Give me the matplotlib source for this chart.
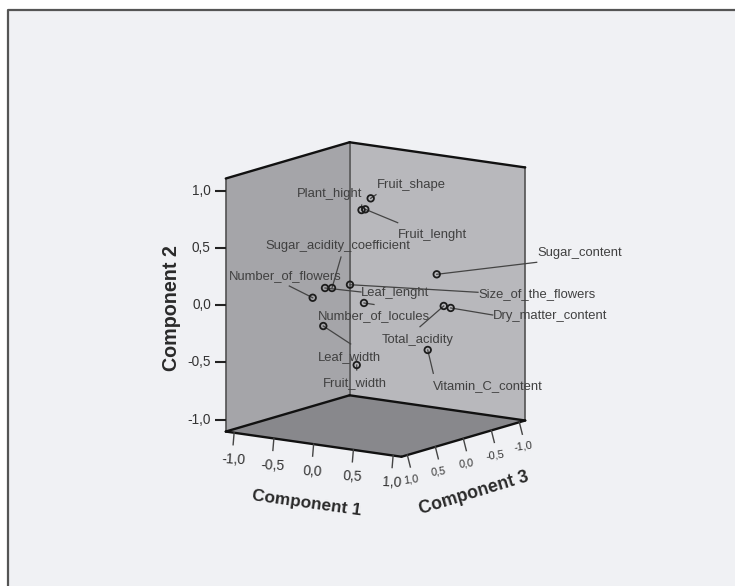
#!/usr/bin/env python3
import matplotlib

matplotlib.use("Agg")
import matplotlib.pyplot as plt
from matplotlib.patches import Polygon

plt.rcParams["font.family"] = ["Liberation Sans", "DejaVu Sans"]

# component loadings (component 3 is a rough guess)
names = [
    "Fruit_shape",
    "Plant_hight",
    "Fruit_lenght",
    "Sugar_content",
    "Size_of_the_flowers",
    "Leaf_lenght",
    "Sugar_acidity_coefficient",
    "Number_of_locules",
    "Number_of_flowers",
    "Leaf_width",
    "Fruit_width",
    "Total_acidity",
    "Dry_matter_content",
    "Vitamin_C_content",
]
comp1 = [0.186, 0.106, 0.083, 0.418, -0.18, -0.283, -0.336, -0.004, -0.297, -0.234, 0.116, 0.647, 0.664, 0.516]
comp2 = [0.952, 0.849, 0.839, 0.19, 0.14, 0.144, 0.11, -0.002, 0.086, -0.169, -0.489, -0.035, -0.065, -0.418]
comp3 = [0.35, 0.4, 0.3, -0.5, 0.2, 0.5, 0.3, 0.2, 0.7, 0.6, 0.5, -0.3, -0.4, -0.2]

ticks = [-1.0, -0.5, 0.0, 0.5, 1.0]
tick_text = ["-1,0", "-0,5", "0,0", "0,5", "1,0"]

# leader end (where the line stops) and label box left edge / centre y, in pixels
label_pos = {
    "Fruit_shape": ((376, 194.7), (377, 184)),
    "Plant_hight": ((361.7, 205), (297, 193)),
    "Fruit_lenght": ((397.7, 222.7), (398, 234)),
    "Sugar_content": ((536.7, 262.3), (537, 252)),
    "Size_of_the_flowers": ((478, 292.3), (478, 293)),
    "Leaf_lenght": ((361, 292), (361, 292)),
    "Sugar_acidity_coefficient": ((341, 257), (265, 245)),
    "Number_of_locules": ((374, 304.5), (318, 315)),
    "Number_of_flowers": ((289.3, 286), (229, 275)),
    "Leaf_width": ((350.7, 344), (318, 356)),
    "Fruit_width": ((356.7, 370), (323, 382)),
    "Total_acidity": ((420, 326.7), (382, 339)),
    "Dry_matter_content": ((492.7, 315), (493, 315)),
    "Vitamin_C_content": ((433.3, 373.3), (433, 385)),
}

LIM = 1.105
BG = "#f0f1f4"


def proj(c1, c2, c3):
    """fixed oblique view of the cube, result in figure pixels"""
    px = 375.5 + 79.5 * c1 - 56 * c3
    py = 299.5 + 11.4 * c1 + 16.4 * c3 - 114.5 * c2
    return px, py


fig = plt.figure(figsize=(7.35, 5.86), dpi=100, facecolor="white")
ax = fig.add_axes([0, 0, 1, 1])
ax.set_xlim(0, 735)
ax.set_ylim(586, 0)
ax.axis("off")

# chart area, only top and left border show in the picture
ax.add_patch(Polygon([(8.5, 9.5), (735, 9.5), (735, 586), (8.5, 586)], fc=BG, ec="none"))
ax.plot([8.5, 8.5, 735], [586, 9.5, 9.5], color="#555555", lw=1.6, solid_capstyle="butt")

# walls and floor
bl = proj(-LIM, -LIM, LIM)
bb = proj(-LIM, -LIM, -LIM)
br = proj(LIM, -LIM, -LIM)
bf = proj(LIM, -LIM, LIM)
tl = proj(-LIM, LIM, LIM)
tb = proj(-LIM, LIM, -LIM)
tr = proj(LIM, LIM, -LIM)
ax.add_patch(Polygon([bl, tl, tb, bb], fc="#a5a5a9", ec="none"))
ax.add_patch(Polygon([bb, tb, tr, br], fc="#b8b8bc", ec="none"))
ax.add_patch(Polygon([bl, bb, br, bf], fc="#88888c", ec="none"))

for a, b in [(bl, tl), (bb, tb), (br, tr)]:
    ax.plot([a[0], b[0]], [a[1], b[1]], color="#4a4a4a", lw=1.1)
for a, b in [(tl, tb), (tb, tr), (bl, bb), (bb, br), (bl, bf), (bf, br)]:
    ax.plot([a[0], b[0]], [a[1], b[1]], color="#111111", lw=1.7, solid_capstyle="round")

# ticks
for v, s in zip(ticks, tick_text):
    x, y = proj(-LIM, v, LIM)
    ax.plot([x - 11, x], [y, y], color="#222222", lw=1.5, solid_capstyle="butt")
    ax.text(x - 15, y, s, ha="right", va="center", fontsize=9.8, color="#333333")

    x, y = proj(v, -LIM, LIM)
    ax.plot([x, x - 1], [y, y + 12], color="#444444", lw=1.0)
    ax.text(x - 1, y + 27, s, ha="center", va="center", fontsize=10, rotation=-3,
            rotation_mode="anchor", color="#333333")

    x, y = proj(LIM, -LIM, v)
    ax.plot([x, x + 3], [y, y + 12], color="#444444", lw=1.0)
    ax.text(x + 3.5, y + 24.5, s, ha="center", va="center", fontsize=7.8, rotation=8,
            rotation_mode="anchor", color="#333333")

# axis titles
title_kw = dict(ha="center", va="center", fontweight="bold", color="#2a2a2a", rotation_mode="anchor")
ax.text(172, 308, "Component 2", rotation=90, fontsize=14.2, **title_kw)
ax.text(307, 503, "Component 1", rotation=-8, fontsize=12.4, **title_kw)
ax.text(474, 493, "Component 3", rotation=17, fontsize=12.8, **title_kw)

# points, leaders, labels
for name, c1, c2, c3 in zip(names, comp1, comp2, comp3):
    x, y = proj(c1, c2, c3)
    end, txt = label_pos[name]
    ax.plot([x, end[0]], [y, end[1]], color="#444444", lw=0.9, zorder=4)
    ax.text(txt[0], txt[1] + 1, name, ha="left", va="center", fontsize=9.4, color="#404040", zorder=6)
ax.scatter(
    [proj(*p)[0] for p in zip(comp1, comp2, comp3)],
    [proj(*p)[1] for p in zip(comp1, comp2, comp3)],
    s=22,
    facecolors="none",
    edgecolors="#1c1c1c",
    linewidths=1.3,
    zorder=5,
)

fig.savefig("out.png", dpi=100)
